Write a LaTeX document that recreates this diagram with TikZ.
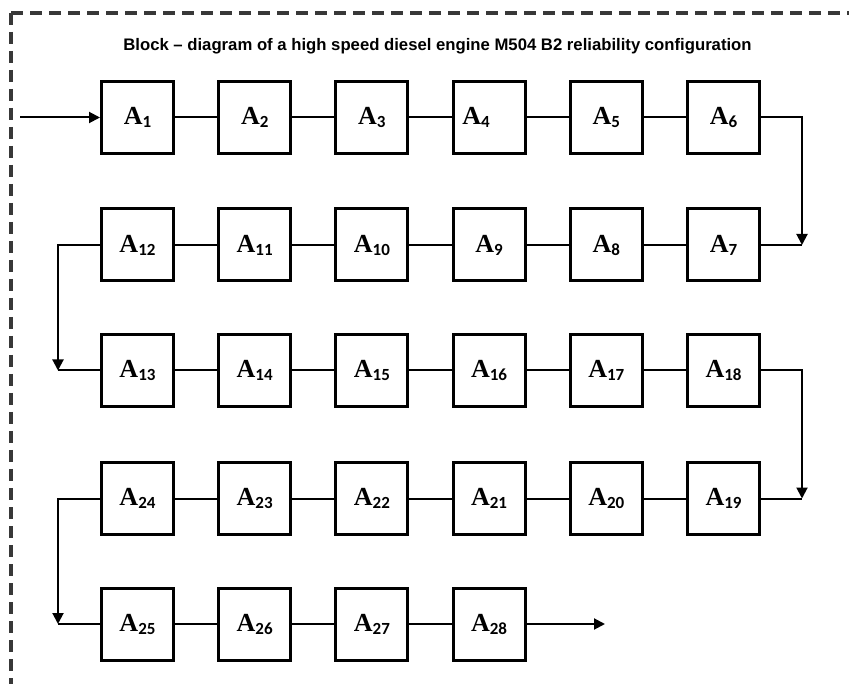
\documentclass[tikz,border=0pt]{standalone}
\usepackage{fontspec}
\setmainfont{Liberation Sans}
\newfontfamily\serifbf{Liberation Serif}[BoldFont={* Bold}]
\newfontfamily\carlfont{Carlito}
\usetikzlibrary{arrows.meta}
\newcommand\blab[1]{{\serifbf\bfseries\fontsize{26}{26}\selectfont A}\raisebox{-3pt}{\carlfont\bfseries\fontsize{17}{17}\selectfont #1}}
\tikzset{
  blockbox/.style={draw=black, line width=3pt, fill=white, minimum width=72pt, minimum height=72pt, inner sep=0pt},
  conn/.style={draw=black, line width=2pt},
  arr/.style={conn, -{Triangle[length=11pt,width=11pt]}},
  frame/.style={draw=black!78, line width=3.2pt, dash pattern=on 12pt off 7pt}
}
\begin{document}
\begin{tikzpicture}[x=1pt,y=-1pt]
\useasboundingbox (0,0) rectangle (849,684);
\fill[white] (0,0) rectangle (849,684);
\draw[frame] (11,13) -- (11,700);
\draw[frame] (11,13) -- (870,13);
\node[anchor=base, font=\bfseries\fontsize{16.7}{16.7}\selectfont] (title) at (437.5,51) {Block -- diagram of a high speed diesel engine M504 B2 reliability configuration};
% row 1
\foreach \i in {1,2,3,5,6} {
  \node[blockbox] (a\i) at ({137.5+(\i-1)*117.2},117.5) {\blab{\i}};
}
\node[blockbox] (a4) at ({137.5+3*117.2},117.5) {\blab{4}\hspace*{26pt}};
% row 2
\foreach \i in {7,...,12} {
  \node[blockbox] (a\i) at ({137.5+(12-\i)*117.2},245) {\blab{\i}};
}
% row 3
\foreach \i in {13,...,18} {
  \node[blockbox] (a\i) at ({137.5+(\i-13)*117.2},370.5) {\blab{\i}};
}
% row 4
\foreach \i in {19,...,24} {
  \node[blockbox] (a\i) at ({137.5+(24-\i)*117.2},498.5) {\blab{\i}};
}
% row 5
\foreach \i in {25,...,28} {
  \node[blockbox] (a\i) at ({137.5+(\i-25)*117.2},624) {\blab{\i}};
}
% in-row connectors
\foreach \a/\b in {1/2,2/3,3/4,4/5,5/6,7/8,8/9,9/10,10/11,11/12,13/14,14/15,15/16,16/17,17/18,19/20,20/21,21/22,22/23,23/24,25/26,26/27,27/28} {
  \draw[conn] (a\a) -- (a\b);
}
% turn coordinates
\coordinate (t1) at (802,117.5);
\coordinate (b1) at (802,245);
\coordinate (t2) at (58,245);
\coordinate (b2) at (58,370.5);
\coordinate (t3) at (802,370.5);
\coordinate (b3) at (802,498.5);
\coordinate (t4) at (58,498.5);
\coordinate (b4) at (58,624);
\coordinate (in) at (20,117.5);
\coordinate (out) at (605,624);
\draw[arr] (in) -- (a1.west);
\draw[arr] (a6.east) -- (t1) -- (b1);
\draw[conn] (a7.east) -- (b1);
\draw[arr] (a12.west) -- (t2) -- (b2);
\draw[conn] (a13.west) -- (b2);
\draw[arr] (a18.east) -- (t3) -- (b3);
\draw[conn] (a19.east) -- (b3);
\draw[arr] (a24.west) -- (t4) -- (b4);
\draw[conn] (a25.west) -- (b4);
\draw[arr] (a28.east) -- (out);
\end{tikzpicture}
\end{document}
